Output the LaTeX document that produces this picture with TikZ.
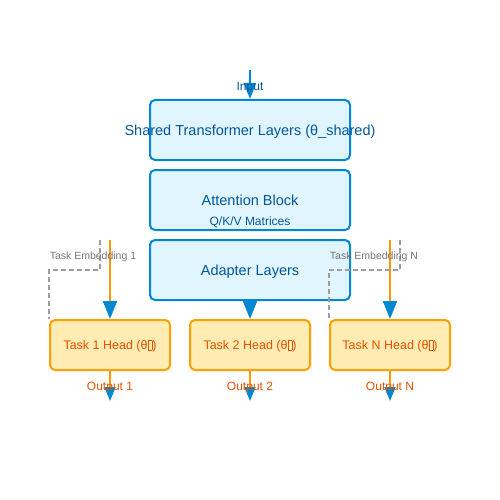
\documentclass[tikz,border=0pt]{standalone}
\usepackage{fontspec}
\setmainfont{Liberation Sans}
\usetikzlibrary{arrows.meta}

\definecolor{boxline}{HTML}{0288D1}
\definecolor{boxfill}{HTML}{E1F5FE}
\definecolor{boxtext}{HTML}{01579B}
\definecolor{headline}{HTML}{FFA000}
\definecolor{headfill}{HTML}{FFECB3}
\definecolor{headtext}{HTML}{E65100}
\definecolor{feedline}{HTML}{FF9800}
\definecolor{embedline}{HTML}{9E9E9E}
\definecolor{embedtext}{HTML}{757575}

\newcommand\tofubox{{\setlength\fboxsep{0pt}\setlength\fboxrule{0.5pt}\fbox{\rule{0pt}{0.7em}\kern0.3em}}}

\begin{document}
\begin{tikzpicture}[x=1pt,y=-1pt,
    layer/.style={draw=boxline,fill=boxfill,line width=2pt,rounded corners=5pt,minimum width=200pt,minimum height=60pt,inner sep=0,text=boxtext,font=\fontsize{14.5}{16}\selectfont,text height=10.4pt,text depth=0pt},
    head/.style={draw=headline,fill=headfill,line width=2pt,rounded corners=5pt,minimum width=120pt,minimum height=50pt,inner sep=0,text=headtext,font=\fontsize{12.5}{14}\selectfont,text height=9pt,text depth=0pt},
    boxlabel/.style={text=boxtext,inner sep=0,font=\fontsize{14.5}{16}\selectfont,text height=10.4pt,text depth=0pt},
    sublabel/.style={text=boxtext,inner sep=0,font=\fontsize{12}{14}\selectfont,text height=8.6pt,text depth=0pt},
    outlabel/.style={text=headtext,inner sep=0,font=\fontsize{12}{14}\selectfont,text height=8.6pt,text depth=0pt},
    embedlabel/.style={text=embedtext,inner sep=0,font=\fontsize{10.5}{12}\selectfont,text height=7.6pt,text depth=0pt},
    feed/.style={draw=feedline,line width=2pt,-{Triangle[length=18pt,width=14pt,color=boxline]}},
    inflow/.style={draw=boxline,line width=2pt,-{Triangle[length=16pt,width=12pt,color=boxline]}},
    outflow/.style={draw=feedline,line width=2pt,-{Triangle[length=14pt,width=11pt,color=boxline]}},
    embed/.style={draw=embedline,line width=1.5pt,dash pattern=on 5pt off 3pt}]
  \useasboundingbox (0,0) rectangle (500,500);
  % shared stack
  \node[layer] (shared) at (250,130) {};
  \node[layer] (attention) at (250,200) {Attention Block};
  \node[layer] (adapter) at (250,270) {Adapter Layers};
  \node[boxlabel] (shared label) at (shared.center) {Shared Transformer Layers (θ\_shared)};
  \node[sublabel] (qkv) at (250,221) {Q/K/V Matrices};
  % task heads
  \node[head] (head1) at (110,345) {Task 1 Head (θ\tofubox)};
  \node[head] (head2) at (250,345) {Task 2 Head (θ\tofubox)};
  \node[head] (headN) at (390,345) {Task N Head (θ\tofubox)};
  % free ends
  \coordinate (input) at (250,70);
  \coordinate (feed1) at (110,240);
  \coordinate (feedN) at (390,240);
  \coordinate (emb1) at (100,240);
  \coordinate (embN) at (400,240);
  \coordinate (out1) at (110,401);
  \coordinate (out2) at (250,401);
  \coordinate (outN) at (390,401);
  % connectors
  \draw[inflow] (input) -- (shared);
  \draw[feed] (feed1) -- (head1);
  \draw[feed] (adapter) -- (head2);
  \draw[feed] (feedN) -- (headN);
  \draw[outflow] (head1) -- (out1);
  \draw[outflow] (head2) -- (out2);
  \draw[outflow] (headN) -- (outN);
  \draw[embed] (emb1) -- ++(0,30) -| (head1.north west);
  \draw[embed] (embN) -- ++(0,30) -| (headN.north west);
  % labels
  \node[sublabel] (input label) at (250,86) {Input};
  \node[outlabel] (out1 label) at (110,386) {Output 1};
  \node[outlabel] (out2 label) at (250,386) {Output 2};
  \node[outlabel] (outN label) at (390,386) {Output N};
  \node[embedlabel] (emb1 label) at (93,256) {Task Embedding 1};
  \node[embedlabel] (embN label) at (374,256) {Task Embedding N};
\end{tikzpicture}
\end{document}
